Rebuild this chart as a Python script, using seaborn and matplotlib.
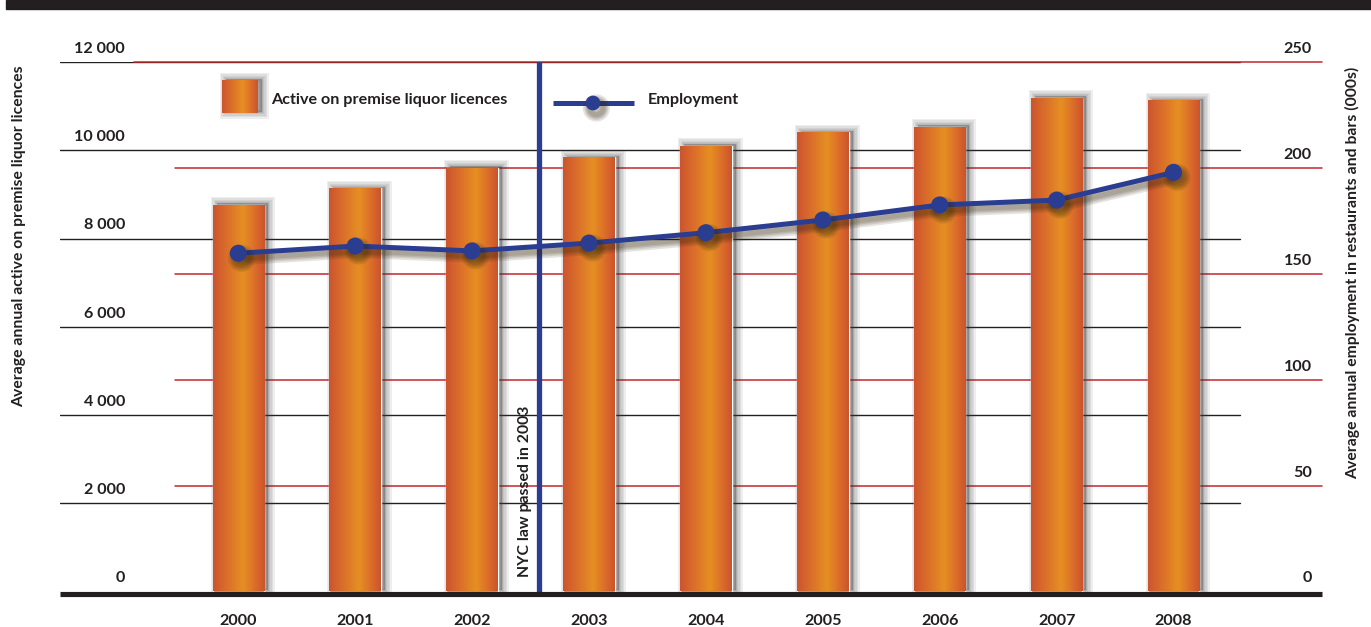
import numpy as np
import matplotlib
matplotlib.use("Agg")
import matplotlib.pyplot as plt
import seaborn as sns
from matplotlib import font_manager, patheffects, transforms
from matplotlib.colors import LinearSegmentedColormap
from matplotlib.patches import Rectangle

# ---- data -------------------------------------------------------------
years = ["2000", "2001", "2002", "2003", "2004", "2005", "2006", "2007", "2008"]
licences = [8770, 9140, 9600, 9840, 10100, 10410, 10530, 11190, 11130]
employment = [159.7, 163.1, 160.8, 164.5, 169.4, 175.4, 182.5, 184.8, 197.9]
left_ticks = [0, 2000, 4000, 6000, 8000, 10000, 12000]
right_ticks = [0, 50, 100, 150, 200, 250]
law_label = "NYC law passed in 2003"
law_position = 2.573          # category position of the law marker (between 2002 and 2003)

left_title = "Average annual active on premise liquor licences"
right_title = "Average annual employment in restaurants and bars (000s)"
bar_label = "Active on premise liquor licences"
line_label = "Employment"


# ---- fonts ------------------------------------------------------------
def pick(*names):
    for n in names:
        try:
            font_manager.findfont(font_manager.FontProperties(family=n),
                                  fallback_to_default=False)
            return n
        except Exception:
            pass
    return "DejaVu Sans"


sns.set_style("white")
NARROW = pick("Liberation Sans Narrow", "Lato", "DejaVu Sans")
TITLE = pick("Lato", "Open Sans", "DejaVu Sans")
plt.rcParams["font.family"] = [TITLE, "DejaVu Sans"]

INK = "#231F20"
BLUE = "#2A3D91"
RED = "#C1272D"
narrow_font = dict(family=NARROW, weight="bold", size=11.6)
title_font = dict(family=TITLE, weight="bold")

bar_cmap = LinearSegmentedColormap.from_list(
    "bar", [(0.0, "#CC552E"), (0.22, "#D96A2B"), (0.58, "#E68F22"),
            (0.85, "#D9682B"), (1.0, "#CB542E")])
grad = np.linspace(0, 1, 96).reshape(1, -1)

# ---- figure / axes ----------------------------------------------------
W, H = 1371, 627
fig = plt.figure(figsize=(W / 100, H / 100), dpi=100)
L, R, B, T = 60, 1322, 591.5, 62
ax = fig.add_axes([L / W, 1 - B / H, (R - L) / W, (B - T) / H])
ax2 = ax.twinx()


def shift(dx, dy):
    """Offset in pixels (dy positive = up)."""
    return transforms.ScaledTranslation(dx / 100, dy / 100, fig.dpi_scale_trans)


sns.barplot(x=years, y=licences, ax=ax, width=0.44, color="#DC7628",
            saturation=1, errorbar=None, zorder=3)
bars = list(ax.patches)

sns.pointplot(x=years, y=employment, ax=ax2, color=BLUE, markers="o",
              linestyles="-", errorbar=None, markersize=9.6, linewidth=3.6,
              zorder=5)

XLIM = (-1.525, 9.27)

# bar shading and soft drop shadow (falls to the right)
shadow_tf = ax.transData + shift(4, 1.5)
for bar in bars:
    x0, w, h = bar.get_x(), bar.get_width(), bar.get_height()
    for r in (1, 2, 3.5, 5, 6.5):
        ax.add_patch(Rectangle((x0, 0), w, h, transform=shadow_tf,
                               facecolor="#3c3c3c", edgecolor="#3c3c3c",
                               linewidth=2 * r * 0.72, alpha=0.085,
                               zorder=2, clip_on=False))
    im = ax.imshow(grad, cmap=bar_cmap, extent=(x0, x0 + w, 0, h),
                   aspect="auto", zorder=3.5, interpolation="bilinear")
    im.set_clip_path(bar)

# shadow under the employment line
shadow_fx = [patheffects.SimpleLineShadow(offset=(2.4, -3.6), shadow_color="#3b2a12",
                                          alpha=0.13, linewidth=lw)
             for lw in (10, 7.5, 5.5, 3.5)] + [patheffects.Normal()]
for ln in ax2.lines:
    ln.set_path_effects(shadow_fx)

# gridlines: black for the left scale, red for the right scale
black_right = (1240 - L) / (R - L)
for v in left_ticks[1:]:
    ax.axhline(v, xmin=0, xmax=black_right, color=INK, lw=1.0, zorder=1)

red_tf = transforms.blended_transform_factory(ax.transAxes, ax2.transData)
for v in right_ticks[1:]:
    start = (134 - L) / (R - L) if v == right_ticks[-1] else (175 - L) / (R - L)
    ax.plot([start, 1], [v, v], transform=red_tf, color=RED, lw=1.1,
            zorder=1.2, clip_on=False)

# thick baseline
base_tf = transforms.blended_transform_factory(ax.transAxes, ax.transData) + shift(0, -2.5)
ax.plot([0, 1], [0, 0], transform=base_tf, color=INK, lw=3.7, zorder=6,
        clip_on=False, solid_capstyle="butt")

# law marker
ax.axvline(law_position, color=BLUE, lw=3.8, zorder=4)
ax.annotate(law_label, xy=(law_position, 0), xytext=(-10.3, 10.4),
            textcoords="offset points", rotation=90, ha="center", va="bottom",
            color=INK, fontsize=11.4, zorder=7, **title_font)

# tick labels sitting above their gridlines
for v in left_ticks:
    ax.text(0, v, f"{v:,}".replace(",", " "),
            transform=ax.get_yaxis_transform() + shift(65, 13),
            ha="right", va="center", color=INK, **narrow_font)
for v in right_ticks:
    ax2.text(1, v, f"{v}", transform=ax2.get_yaxis_transform() + shift(-10, 13),
             ha="right", va="center", color=INK, **narrow_font)

for a in (ax, ax2):
    for s in a.spines.values():
        s.set_visible(False)
    a.set_xlabel("")
    a.set_ylabel("")
    a.grid(False)
    a.set_yticks([])
ax.set_xlim(*XLIM)
ax.set_ylim(0, left_ticks[-1])
ax2.set_ylim(0, right_ticks[-1])
ax.tick_params(axis="x", length=0, pad=16, labelcolor=INK)
for t in ax.get_xticklabels():
    t.set_fontfamily(NARROW)
    t.set_fontweight("bold")
    t.set_fontsize(11.6)

# axis titles
fig.text(19.3 / W, 1 - 236 / H, left_title, rotation=90, ha="center",
         va="center", color=INK, fontsize=11.3, **title_font)
fig.text(1353 / W, 1 - 273 / H, right_title, rotation=90, ha="center",
         va="center", color=INK, fontsize=11.3, **title_font)

# ---- overlay: header band and legend ----------------------------------
ov = fig.add_axes([0, 0, 1, 1], zorder=10)
ov.patch.set_alpha(0)
ov.axis("off")
ov.add_patch(Rectangle((6, 0), W - 6, 8.5, color=INK))

sx0, sx1, sy0, sy1 = 222, 258, 80, 113
for r in (1, 2, 3.5, 5, 6.5):
    ov.add_patch(Rectangle((sx0 + 4, sy0 - 1.5), sx1 - sx0, sy1 - sy0,
                           facecolor="#3c3c3c", edgecolor="#3c3c3c",
                           linewidth=2 * r * 0.72, alpha=0.085, zorder=2))
ov.imshow(grad, cmap=bar_cmap, extent=(sx0, sx1, sy1, sy0), aspect="auto",
          zorder=3, interpolation="bilinear")
ov.text(271, 100, bar_label, ha="left", va="center", color=INK, **narrow_font)

ov.plot([553, 634], [103, 103], color=BLUE, lw=3.6, zorder=3,
        solid_capstyle="butt")
mk, = ov.plot([593], [103], "o", color=BLUE, ms=9.6, zorder=4)
mk.set_path_effects(shadow_fx)
ov.text(648, 100, line_label, ha="left", va="center", color=INK, **narrow_font)
ov.set_xlim(0, W)
ov.set_ylim(H, 0)

fig.savefig("out.png", dpi=100)
